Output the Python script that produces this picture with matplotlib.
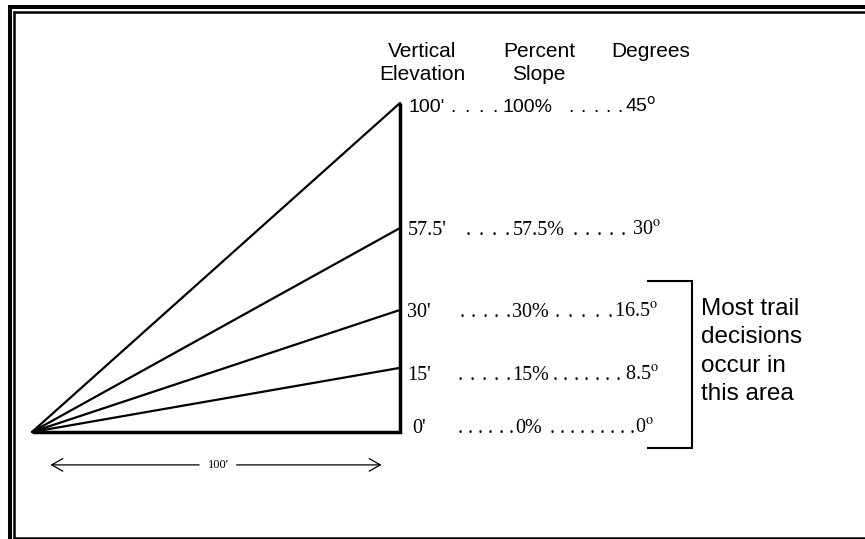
import numpy as np
import matplotlib.pyplot as plt


W, H = 865, 539
DPI = 100

# slope chart values
run_ft = 100
elevation_labels = ["100'", "57.5'", "30'", "15'", "0'"]
percent_labels = ["100%", "57.5%", "30%", "15%", "0%"]
degree_labels = ["45", "30", "16.5", "8.5", "0"]
# rise of each line as it is drawn in the picture (the sketch is not to scale)
drawn_rise = [100, 62.0, 37.1, 19.5, 0]

headers = [["Vertical", "Elevation"], ["Percent", "Slope"], ["Degrees"]]
note_lines = ["Most trail", "decisions", "occur in", "this area"]
run_label = "100'"

# number of leader dots before the percent and the degree columns
n_dots_percent = [4, 4, 5, 5, 6]
n_dots_degree = [5, 5, 5, 7, 9]

SANS = "Liberation Sans"
SERIF = "Liberation Serif"


def main():
    fig = plt.figure(figsize=(W / DPI, H / DPI), dpi=DPI)

    # diagram axes in feet, apex at pixel (32, 432)
    sx = (400 - 32) / run_ft
    sy = (432 - 103) / 100
    ax = fig.add_axes([0, 0, 1, 1])
    ax.set_xlim(-32 / sx, (W - 32) / sx)
    ax.set_ylim(-(H - 432) / sy, 432 / sy)
    ax.axis("off")

    # layout axes in pixels (y down)
    lay = fig.add_axes([0, 0, 1, 1])
    lay.set_xlim(0, W)
    lay.set_ylim(H, 0)
    lay.axis("off")

    def to_px(x, y):
        dx, dy = ax.transData.transform((x, y))
        return dx, H - dy

    # slope lines
    for rise in drawn_rise[:-1]:
        ax.plot([0, run_ft], [0, rise], color="black", lw=1.6,
                solid_capstyle="round")
    ax.plot([0, run_ft, run_ft], [0, 0, max(drawn_rise)], color="black",
            lw=2.5, solid_joinstyle="miter", solid_capstyle="butt")

    # dimension line under the base
    dim_y = -10
    arrow_kw = dict(arrowstyle="->,head_length=0.8,head_width=0.45",
                    lw=0.9, color="black", shrinkA=0, shrinkB=0)
    ax.annotate("", xy=(5, dim_y), xytext=(run_ft / 2 - 4.6, dim_y),
                arrowprops=arrow_kw)
    ax.annotate("", xy=(run_ft - 5, dim_y), xytext=(run_ft / 2 + 5.6, dim_y),
                arrowprops=arrow_kw)
    ax.text(run_ft / 2 + 0.6, dim_y, run_label, ha="center", va="center",
            fontsize=9, family=SERIF)

    # column headers
    header_x = [422, 539, 651]
    for cx, lines in zip(header_x, headers):
        for k, line in enumerate(lines):
            lay.text(cx, 57 + 23 * k, line, ha="center", va="baseline",
                     fontsize=15, family=SANS)

    # rows of labels
    baseline_off = [9, 7, 7, 12, 1]
    elev_x = [408, 408, 407, 407, 412]
    pct_x = [503, 513, 512, 512, 515]
    deg_x = [625, 632, 614, 625, 635]
    dots1 = [(453, 495), (468, 507), (462, 508), (460, 508), (460, 511)]
    dots2 = [(571, 620), (575, 623), (557, 610), (555, 618), (552, 632)]
    for i, rise in enumerate(drawn_rise):
        _, py = to_px(run_ft, rise)
        by = py + baseline_off[i]
        if i == 0:
            fam, mfam, fs = SANS, "dejavusans", 14
        else:
            fam, mfam, fs = SERIF, "stix", 14.5
        lay.text(elev_x[i], by, elevation_labels[i], ha="left", va="baseline",
                 fontsize=fs, family=fam)
        lay.text(pct_x[i], by, percent_labels[i], ha="left", va="baseline",
                 fontsize=fs, family=fam)
        lay.text(deg_x[i], by, degree_labels[i] + r"$^{\mathrm{o}}$",
                 ha="left", va="baseline", fontsize=fs, family=fam,
                 math_fontfamily=mfam)
        for (x0, x1), n in ((dots1[i], n_dots_percent[i]),
                            (dots2[i], n_dots_degree[i])):
            for dx in np.linspace(x0, x1, n):
                lay.text(dx, by, ".", ha="center", va="baseline",
                         fontsize=fs, family=fam)

    # bracket around the common range
    lay.plot([648, 692, 692, 648], [281, 281, 448, 448], color="black",
             lw=1.5, solid_joinstyle="miter")
    for k, line in enumerate(note_lines):
        lay.text(701, 315 + 28.3 * k, line, ha="left", va="baseline",
                 fontsize=17.5, family=SANS)

    # double frame (right and bottom outer edges are cropped)
    lay.plot([8, W], [6.5, 6.5], color="black", lw=2.9, solid_capstyle="butt")
    lay.plot([10, 10], [5, H], color="black", lw=2.9, solid_capstyle="butt")
    lay.plot([13, W], [11.7, 11.7], color="black", lw=1.8, solid_capstyle="butt")
    lay.plot([14.2, 14.2], [11, H], color="black", lw=1.8, solid_capstyle="butt")
    lay.plot([13.3, W], [537.8, 537.8], color="black", lw=1.8,
             solid_capstyle="butt")

    fig.savefig("out.png", dpi=DPI)
    plt.close(fig)


if __name__ == "__main__":
    main()
